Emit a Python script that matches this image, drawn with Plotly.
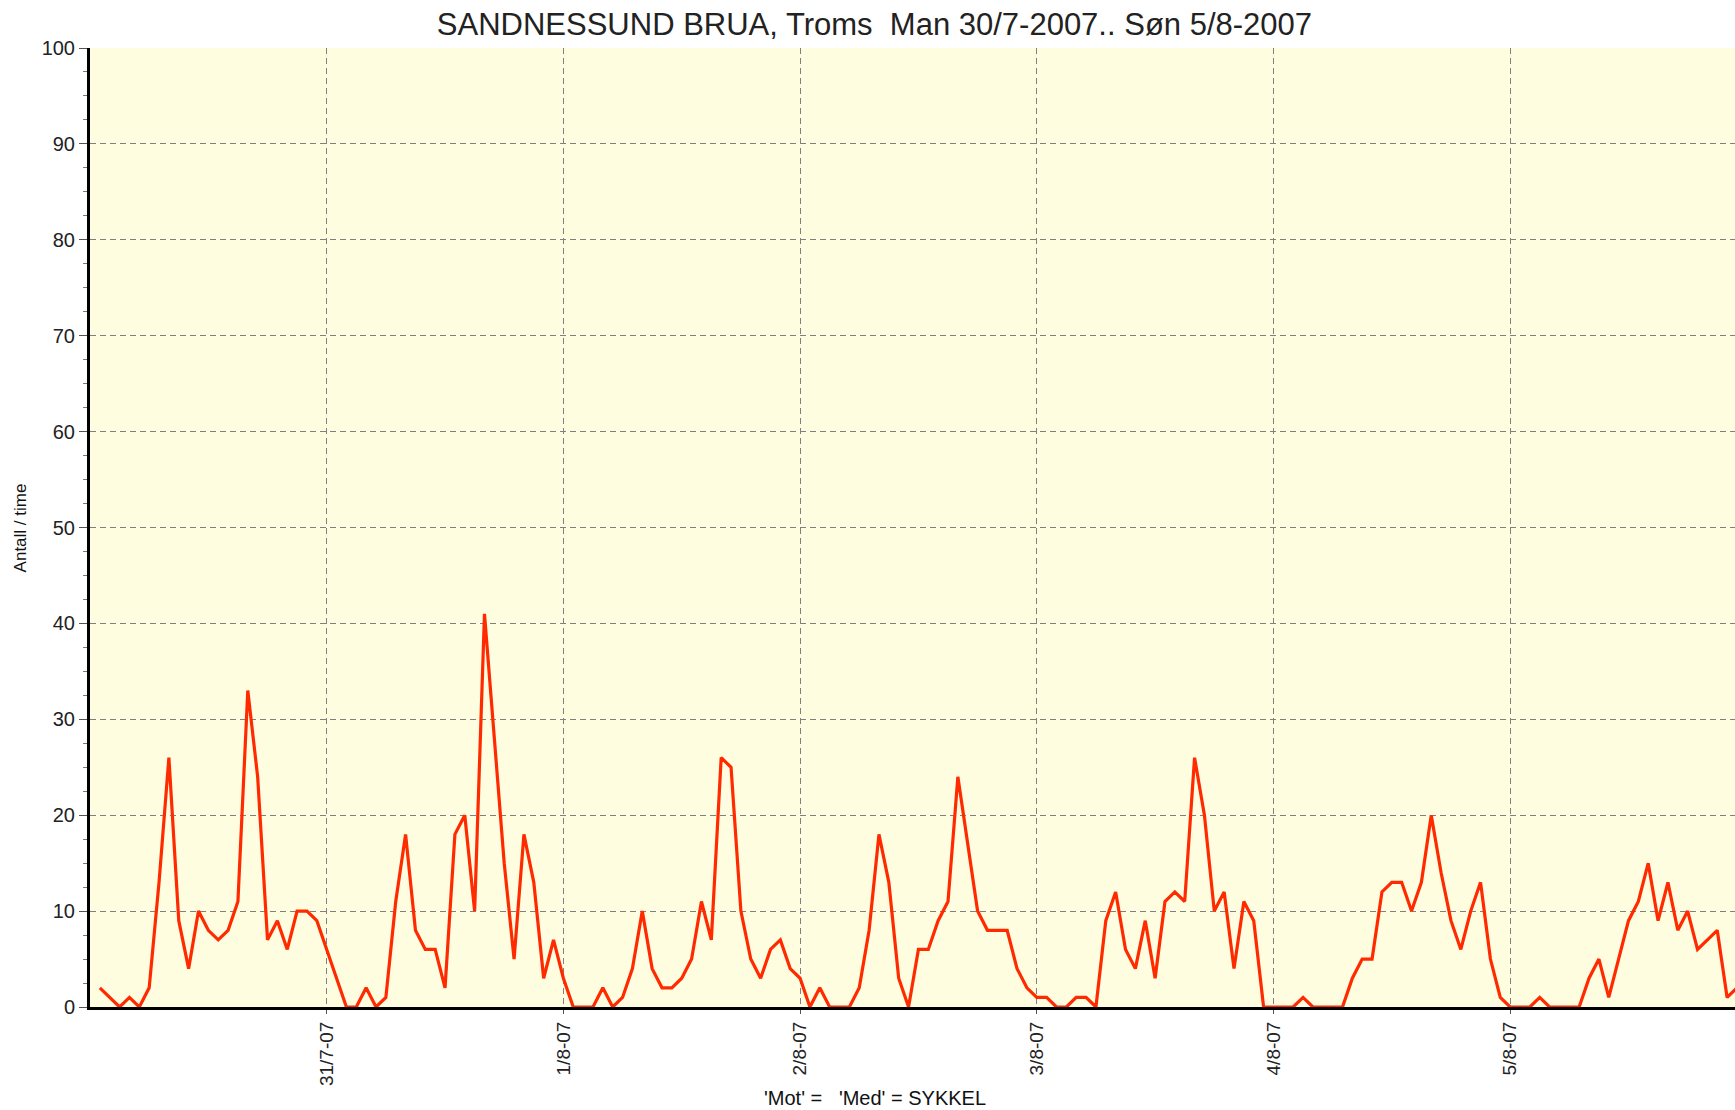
import plotly.graph_objects as go

# Hourly bicycle counts, Mon 30/7-2007 01:00 .. Sun 5/8-2007 24:00
hours = list(range(1, 169))
counts = [
    2, 1, 0, 1, 0, 2, 13, 26, 9, 4, 10, 8, 7, 8, 11, 33, 24, 7, 9, 6, 10, 10, 9, 6,
    3, 0, 0, 2, 0, 1, 11, 18, 8, 6, 6, 2, 18, 20, 10, 41, 28, 15, 5, 18, 13, 3, 7, 3,
    0, 0, 0, 2, 0, 1, 4, 10, 4, 2, 2, 3, 5, 11, 7, 26, 25, 10, 5, 3, 6, 7, 4, 3,
    0, 2, 0, 0, 0, 2, 8, 18, 13, 3, 0, 6, 6, 9, 11, 24, 17, 10, 8, 8, 8, 4, 2, 1,
    1, 0, 0, 1, 1, 0, 9, 12, 6, 4, 9, 3, 11, 12, 11, 26, 20, 10, 12, 4, 11, 9, 0, 0,
    0, 0, 1, 0, 0, 0, 0, 3, 5, 5, 12, 13, 13, 10, 13, 20, 14, 9, 6, 10, 13, 5, 1, 0,
    0, 0, 1, 0, 0, 0, 0, 3, 5, 1, 5, 9, 11, 15, 9, 13, 8, 10, 6, 7, 8, 1, 2, 2,
]
day_ticks = [24, 48, 72, 96, 120, 144]
day_labels = ["31/7-07", "1/8-07", "2/8-07", "3/8-07", "4/8-07", "5/8-07"]
y_ticks = [0, 10, 20, 30, 40, 50, 60, 70, 80, 90, 100]

title_text = "SANDNESSUND BRUA, Troms  Man 30/7-2007.. Søn 5/8-2007"
y_title = "Antall / time"
footer = "'Mot' =   'Med' = SYKKEL"

FONT = "Liberation Sans, Arial, sans-serif"

fig = go.Figure()
fig.add_trace(go.Scatter(
    x=hours, y=counts, mode="lines",
    line=dict(color="#ff2a00", width=3.2),
    showlegend=False, hoverinfo="x+y",
))

fig.update_layout(
    width=1735, height=1110,
    margin=dict(l=90, r=0, t=48, b=103),
    paper_bgcolor="white",
    plot_bgcolor="#fffde0",
    font=dict(family=FONT, color="black"),
    title=dict(text=title_text, x=0.504, xref="container", xanchor="center",
               y=1 - 24 / 1110, yref="container", yanchor="middle",
               font=dict(family=FONT, size=31, color="#222")),
    annotations=[
        dict(text=y_title, xref="paper", yref="paper", x=-0.042, y=0.5,
             textangle=-90, showarrow=False, xanchor="center", yanchor="middle",
             font=dict(family=FONT, size=17, color="#111")),
        dict(text=footer, xref="paper", yref="paper", x=0.477, y=-0.095,
             showarrow=False, xanchor="center", yanchor="middle",
             font=dict(family=FONT, size=20, color="#111")),
    ],
)

fig.update_xaxes(
    range=[0, 166.8],
    tickmode="array", tickvals=day_ticks, ticktext=day_labels,
    tickangle=-90, tickfont=dict(family=FONT, size=19, color="#222"),
    ticks="outside", ticklen=4, tickcolor="#555", tickwidth=1,
    showgrid=True, gridcolor="#808080", griddash="6px,4px", gridwidth=1.3,
    showline=True, linecolor="black", linewidth=3,
    zeroline=False,
)
fig.update_yaxes(
    range=[0, 100],
    tickmode="array", tickvals=y_ticks,
    tickfont=dict(family=FONT, size=20, color="#222"),
    ticks="outside", ticklen=8, tickcolor="#555", tickwidth=1,
    minor=dict(dtick=2.5, ticks="outside", ticklen=4, tickcolor="#777", showgrid=False),
    showgrid=True, gridcolor="#808080", griddash="6px,4px", gridwidth=1.3,
    showline=True, linecolor="black", linewidth=3,
    zeroline=False,
)

fig.write_html("out.html", config={"displayModeBar": False},
               post_script="document.body.style.margin='0';document.body.style.overflow='hidden';")
